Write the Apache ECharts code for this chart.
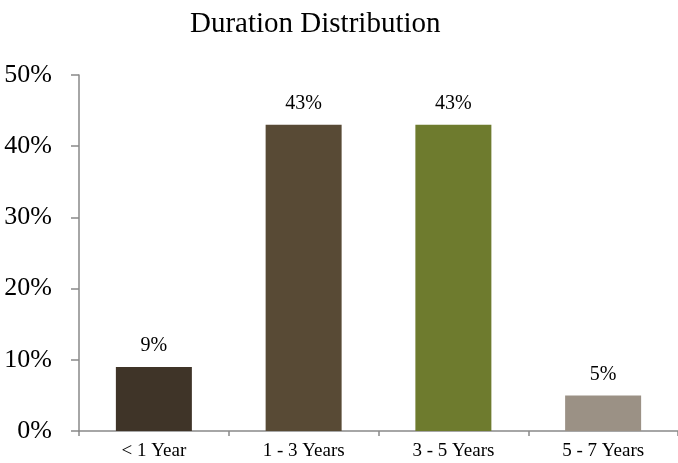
<!DOCTYPE html>
<html>
<head>
<meta charset="utf-8">
<script src="https://cdn.jsdelivr.net/npm/echarts@6/dist/echarts.min.js"></script>
<style>html,body{margin:0;padding:0;background:#fff}#c{width:678px;height:463px}</style>
</head>
<body>
<div id="c"></div>
<script>
const titleText = "Duration Distribution";
const categories = ["< 1 Year", "1 - 3 Years", "3 - 5 Years", "5 - 7 Years"];
const values = [9, 43, 43, 5];
const barColors = ["#3f3428", "#584a35", "#6e7b2e", "#9b9185"];
const yMin = 0, yMax = 50, yStep = 10;

const font = "Liberation Serif";
const chart = echarts.init(document.getElementById('c'));
chart.setOption({
  animation: false,
  backgroundColor: '#fff',
  title: {
    text: titleText,
    left: 185,
    top: 5,
    textStyle: { fontFamily: font, fontSize: 29, fontWeight: 'normal', color: '#000' }
  },
  grid: { left: 79, right: -5, top: 75, bottom: 32, containLabel: false },
  xAxis: {
    type: 'category',
    data: categories,
    boundaryGap: true,
    axisLine: { lineStyle: { color: '#898989', width: 1.5 } },
    axisTick: { show: true, alignWithLabel: false, interval: 0, length: 5, lineStyle: { color: '#898989', width: 1.5 } },
    axisLabel: { interval: 0, margin: 11, fontFamily: font, fontSize: 19, color: '#000' }
  },
  yAxis: {
    type: 'value',
    min: yMin, max: yMax, interval: yStep,
    axisLine: { show: true, lineStyle: { color: '#898989', width: 1.5 } },
    axisTick: { show: true, length: 8, lineStyle: { color: '#898989', width: 1.5 } },
    splitLine: { show: false },
    axisLabel: { margin: 27, formatter: '{value}%', fontFamily: font, fontSize: 26, color: '#000' }
  },
  series: [{
    type: 'bar',
    barWidth: 76,
    data: values.map((v, i) => ({ value: v, itemStyle: { color: barColors[i] } })),
    label: {
      show: true, position: 'top', distance: 11,
      formatter: '{c}%', fontFamily: font, fontSize: 20, color: '#000'
    }
  }]
});
</script>
</body>
</html>
